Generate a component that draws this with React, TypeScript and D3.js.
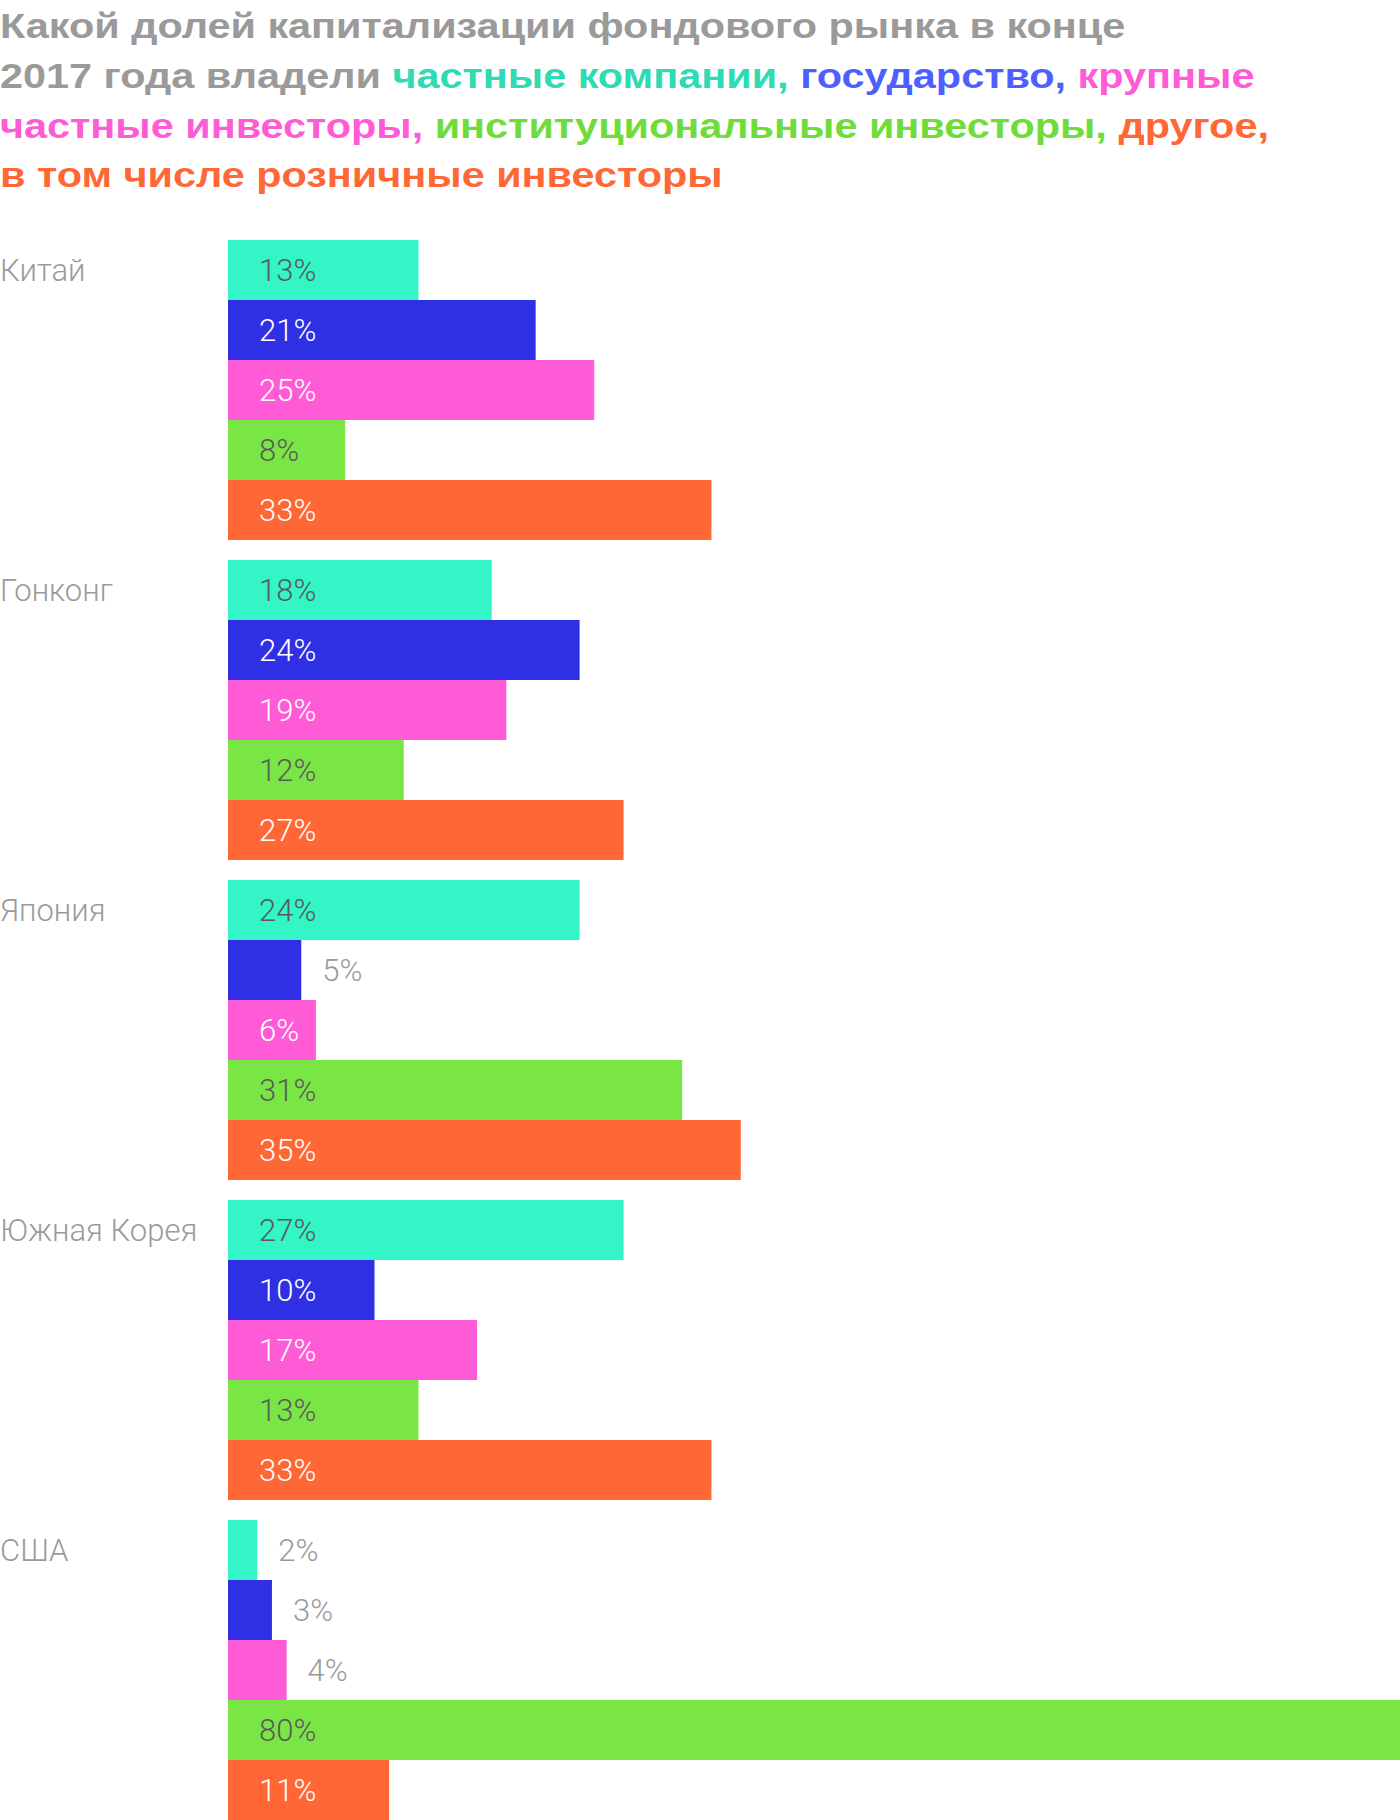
import React from "react";
import * as d3 from "d3";

const countries = ["Китай", "Гонконг", "Япония", "Южная Корея", "США"];
const seriesKeys = ["private", "state", "bigPrivate", "institutional", "other"];
const seriesNames = [
  "частные компании",
  "государство",
  "крупные частные инвесторы",
  "институциональные инвесторы",
  "другое, в том числе розничные инвесторы",
];
const barColors = ["#33f5c6", "#2f2fe3", "#ff5bd6", "#7ae646", "#ff6735"];
const titleColors = ["#2edbb2", "#4d60ff", "#ff5bd6", "#6fdc3c", "#ff6735"];
const insideLabelColors = ["#5a5a5a", "#ffffff", "#ffffff", "#5a5a5a", "#ffffff"];

const privateVals = [13, 18, 24, 27, 2];
const stateVals = [21, 24, 5, 10, 3];
const bigPrivateVals = [25, 19, 6, 17, 4];
const institutionalVals = [8, 12, 31, 13, 80];
const otherVals = [33, 27, 35, 33, 11];
const allSeries = [privateVals, stateVals, bigPrivateVals, institutionalVals, otherVals];

const W = 1400;
const H = 1820;

export default function App() {
  const x = d3.scaleLinear().domain([0, 80]).range([228, 1400]);
  const yGroup = d3
    .scaleBand<string>()
    .domain(countries)
    .range([240, 1820])
    .paddingInner(0.0625)
    .paddingOuter(0);
  const ySub = d3
    .scaleBand<string>()
    .domain(seriesKeys)
    .range([0, yGroup.bandwidth()]);

  const titleFont = {
    fontFamily: "'Liberation Sans', Arial, sans-serif",
    fontWeight: 700,
    fontSize: 36,
  };
  const gray = "#9a9a9a";

  return (
    <svg
      width={W}
      height={H}
      style={{ position: "absolute", left: 0, top: 0, background: "#fff" }}
    >
      <g style={titleFont} transform="scale(1.15,1)">
        <text x={0} y={38} fill={gray}>
          Какой долей капитализации фондового рынка в конце
        </text>
        <text x={0} y={88} fill={gray}>
          <tspan>2017 года владели </tspan>
          <tspan fill={titleColors[0]}>{seriesNames[0]},</tspan>
          <tspan> </tspan>
          <tspan fill={titleColors[1]}>{seriesNames[1]},</tspan>
          <tspan> </tspan>
          <tspan fill={titleColors[2]}>крупные</tspan>
        </text>
        <text x={0} y={138} fill={gray}>
          <tspan fill={titleColors[2]}>частные инвесторы,</tspan>
          <tspan> </tspan>
          <tspan fill={titleColors[3]}>{seriesNames[3]},</tspan>
          <tspan> </tspan>
          <tspan fill={titleColors[4]}>другое,</tspan>
        </text>
        <text x={0} y={187} fill={titleColors[4]}>
          в том числе розничные инвесторы
        </text>
      </g>

      {countries.map((c, ci) => {
        const gy = yGroup(c)!;
        return (
          <g key={c} transform={`translate(0,${gy})`}>
            <text
              x={0}
              y={ySub.bandwidth() / 2}
              dy="0.36em"
              fill={gray}
              style={{ fontFamily: "Roboto, sans-serif", fontWeight: 300, fontSize: 31 }}
            >
              {c}
            </text>
            {seriesKeys.map((k, si) => {
              const v = allSeries[si][ci];
              const by = ySub(k)!;
              const bw = x(v) - x(0);
              const inside = v >= 6;
              return (
                <g key={k}>
                  <rect
                    x={x(0)}
                    y={by}
                    width={bw}
                    height={ySub.bandwidth()}
                    fill={barColors[si]}
                  />
                  <text
                    x={inside ? x(0) + 31 : x(v) + 21}
                    y={by + ySub.bandwidth() / 2}
                    dy="0.36em"
                    fill={inside ? insideLabelColors[si] : gray}
                    style={{ fontFamily: "Roboto, sans-serif", fontWeight: 300, fontSize: 31 }}
                  >
                    {v}%
                  </text>
                </g>
              );
            })}
          </g>
        );
      })}
    </svg>
  );
}
